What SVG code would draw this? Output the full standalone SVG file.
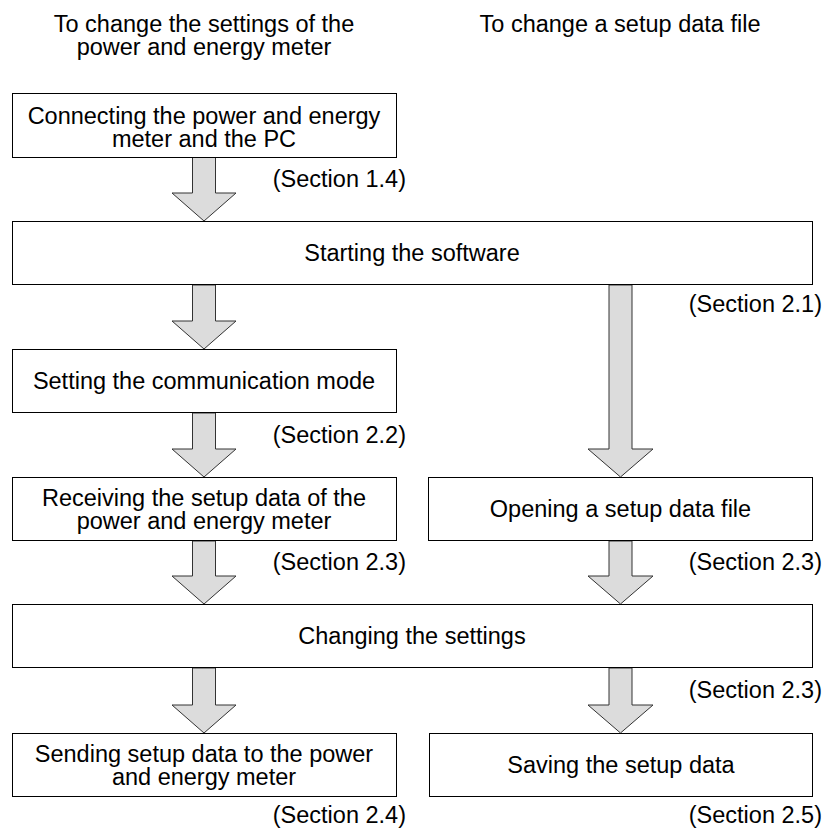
<svg xmlns="http://www.w3.org/2000/svg" width="831" height="832" viewBox="0 0 831 832">
<style>
text{font-family:"Liberation Sans",Arial,sans-serif;font-size:23.5px;fill:#000}
.c{text-anchor:middle}
.r{text-anchor:end}
.box{fill:#fff;stroke:#000;stroke-width:1}
.arr{fill:#dcdcdc;stroke:#333;stroke-width:1}
</style>
<rect width="831" height="832" fill="#fff"/>
<g id="headers">
<text class="c" x="204" y="32">To change the settings of the<tspan x="204" dy="23">power and energy meter</tspan></text>
<text class="c" x="620" y="32">To change a setup data file</text>
</g>
<g id="connectors">
<polygon class="arr" points="192.5,157 215.5,157 215.5,193 236,193 204,221 172,193 192.5,193"/>
<polygon class="arr" points="192.5,285 215.5,285 215.5,321 236,321 204,349 172,321 192.5,321"/>
<polygon class="arr" points="192.5,413 215.5,413 215.5,449 236,449 204,477 172,449 192.5,449"/>
<polygon class="arr" points="609,285 632,285 632,449 653,449 620.5,477 588,449 609,449"/>
<polygon class="arr" points="192.5,541 215.5,541 215.5,576 236,576 204,604 172,576 192.5,576"/>
<polygon class="arr" points="609,541 632,541 632,576 653,576 620.5,604 588,576 609,576"/>
<polygon class="arr" points="192.5,668 215.5,668 215.5,705 236,705 204,733 172,705 192.5,705"/>
<polygon class="arr" points="609,668 632,668 632,705 653,705 620.5,733 588,705 609,705"/>
</g>
<g id="n1"><rect class="box" x="12.5" y="93.5" width="384" height="64"/>
<text class="c" x="204" y="124">Connecting the power and energy<tspan x="204" dy="23">meter and the PC</tspan></text></g>
<g id="n2"><rect class="box" x="12.5" y="221.5" width="800" height="63"/>
<text class="c" x="412" y="261">Starting the software</text></g>
<g id="n3"><rect class="box" x="12.5" y="349.5" width="384" height="63"/>
<text class="c" x="204" y="389">Setting the communication mode</text></g>
<g id="n4"><rect class="box" x="12.5" y="477.5" width="384" height="63"/>
<text class="c" x="204" y="506">Receiving the setup data of the<tspan x="204" dy="23">power and energy meter</tspan></text></g>
<g id="n5"><rect class="box" x="428.5" y="477.5" width="384" height="63"/>
<text class="c" x="620.5" y="517">Opening a setup data file</text></g>
<g id="n6"><rect class="box" x="12.5" y="604.5" width="800" height="63"/>
<text class="c" x="412" y="644">Changing the settings</text></g>
<g id="n7"><rect class="box" x="12.5" y="733.5" width="384" height="63"/>
<text class="c" x="204" y="762">Sending setup data to the power<tspan x="204" dy="23">and energy meter</tspan></text></g>
<g id="n8"><rect class="box" x="429.5" y="733.5" width="383" height="63"/>
<text class="c" x="621" y="773">Saving the setup data</text></g>
<g id="sections">
<text class="r" x="406" y="187">(Section 1.4)</text>
<text class="r" x="822" y="312">(Section 2.1)</text>
<text class="r" x="406" y="443">(Section 2.2)</text>
<text class="r" x="406" y="570">(Section 2.3)</text>
<text class="r" x="822" y="570">(Section 2.3)</text>
<text class="r" x="822" y="698">(Section 2.3)</text>
<text class="r" x="406" y="823">(Section 2.4)</text>
<text class="r" x="822" y="823">(Section 2.5)</text>
</g>
</svg>
